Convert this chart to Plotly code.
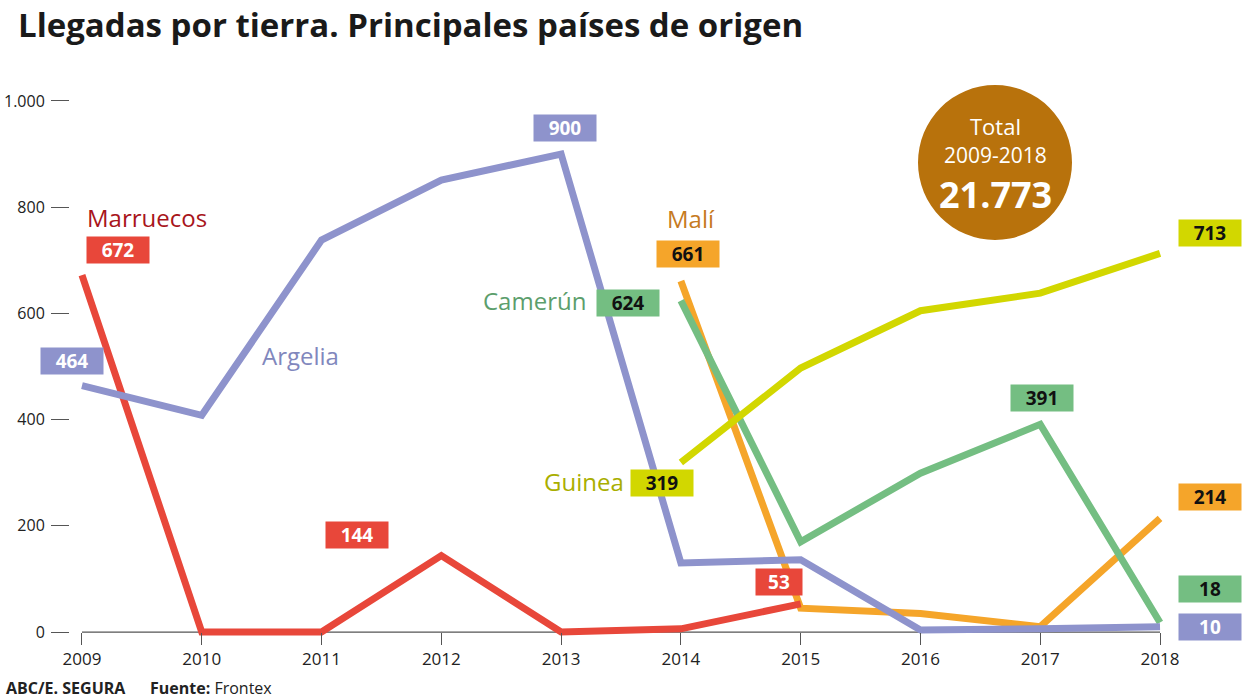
import plotly.graph_objects as go

years = [2009, 2010, 2011, 2012, 2013, 2014, 2015, 2016, 2017, 2018]

marruecos_x = [2009, 2010, 2011, 2012, 2013, 2014, 2015]
marruecos_y = [672, 0, 0, 144, 0, 6, 53]

argelia_x = years
argelia_y = [464, 408, 738, 851, 900, 130, 136, 4, 6, 10]

mali_x = [2014, 2015, 2016, 2017, 2018]
mali_y = [661, 45, 35, 10, 214]

camerun_x = [2014, 2015, 2016, 2017, 2018]
camerun_y = [624, 170, 299, 391, 18]

guinea_x = [2014, 2015, 2016, 2017, 2018]
guinea_y = [319, 497, 605, 638, 713]

y_ticks = [0, 200, 400, 600, 800, 1000]

total_label = "21.773"

FONT = "Open Sans"
RED, PURPLE, ORANGE, GREEN, YELLOW = "#e8473a", "#8e93cc", "#f5a52a", "#74be82", "#d2d700"

# plot area in pixels
L, R, T, B = 70, 1172, 85, 640
W, H = R - L, B - T

def px(x):
    return (x - L) / W

def py(y):
    return (B - y) / H

fig = go.Figure()

# baseline
fig.add_shape(type="line", x0=years[0], x1=years[-1], y0=0, y1=0,
              line=dict(color="#555555", width=1.2), layer="below")

series = [
    (mali_x, mali_y, ORANGE),
    (camerun_x, camerun_y, GREEN),
    (marruecos_x, marruecos_y, RED),
    (argelia_x, argelia_y, PURPLE),
    (guinea_x, guinea_y, YELLOW),
]
for xs, ys, c in series:
    fig.add_trace(go.Scatter(x=xs, y=ys, mode="lines",
                             line=dict(color=c, width=7), hoverinfo="skip",
                             showlegend=False))

def box(x, y, text, bg, fg, dx, dy, w=60):
    fig.add_annotation(x=x, y=y, text=f"<b>{text}</b>", showarrow=False,
                       xshift=dx, yshift=dy, bgcolor=bg, width=w, height=24,
                       font=dict(family=FONT, size=19, color=fg),
                       xanchor="center", yanchor="middle")

def label(x, y, text, color, dx, dy, anchor):
    fig.add_annotation(x=x, y=y, text=text, showarrow=False, xshift=dx, yshift=dy,
                       font=dict(family=FONT, size=24, color=color),
                       xanchor=anchor, yanchor="middle")

# Marruecos
label(marruecos_x[0], marruecos_y[0], "Marruecos", "#a8151b", 3, 58, "left")
box(marruecos_x[0], marruecos_y[0], marruecos_y[0], RED, "white", 36, 25)
box(marruecos_x[3], marruecos_y[3], marruecos_y[3], RED, "white", -84, 21)
box(marruecos_x[6], marruecos_y[6], marruecos_y[6], RED, "white", -22, 22, 44)

# Argelia
label(argelia_x[1], argelia_y[1], "Argelia", "#8187bd", 58, 60, "left")
box(argelia_x[0], argelia_y[0], argelia_y[0], PURPLE, "white", -10, 25)
box(argelia_x[4], argelia_y[4], argelia_y[4], PURPLE, "white", 4, 26)
box(argelia_x[-1], argelia_y[-1], argelia_y[-1], PURPLE, "white", 50, 0, 60)

# Malí
label(mali_x[0], mali_y[0], "Malí", "#c67b1f", 10, 62, "center")
box(mali_x[0], mali_y[0], mali_y[0], ORANGE, "#111111", 7, 27)
box(mali_x[-1], mali_y[-1], mali_y[-1], ORANGE, "#111111", 50, 21)

# Camerún
label(camerun_x[0], camerun_y[0], "Camerún", "#5c9e6c", -93, 0, "right")
box(camerun_x[0], camerun_y[0], camerun_y[0], GREEN, "#111111", -53, -2)
box(camerun_x[3], camerun_y[3], camerun_y[3], GREEN, "#111111", 2, 26)
box(camerun_x[-1], camerun_y[-1], camerun_y[-1], GREEN, "#111111", 50, 33)

# Guinea
label(guinea_x[0], guinea_y[0], "Guinea", "#a9ae00", -55, -19, "right")
box(guinea_x[0], guinea_y[0], guinea_y[0], YELLOW, "#111111", -19, -20)
box(guinea_x[-1], guinea_y[-1], guinea_y[-1], YELLOW, "#111111", 50, 20)

# Total circle
fig.add_shape(type="circle", xref="paper", yref="paper",
              x0=px(918), x1=px(1072), y0=py(240), y1=py(85),
              fillcolor="#b8720c", line=dict(width=0), layer="below")
for txt, yc, size in [("Total", 126, 22), ("2009-2018", 155, 21),
                      (f"<b>{total_label}</b>", 194, 36)]:
    fig.add_annotation(xref="paper", yref="paper", x=px(995), y=py(yc),
                       xanchor="center", yanchor="middle",
                       text=txt, showarrow=False,
                       font=dict(family=FONT, size=size, color="white"))

# footer
fig.add_annotation(xref="paper", yref="paper", x=px(4), y=py(688),
                   xanchor="left", yanchor="middle", showarrow=False,
                   text="<b>ABC/E. SEGURA</b>", font=dict(family=FONT, size=16, color="#222"))
fig.add_annotation(xref="paper", yref="paper", x=px(148), y=py(688),
                   xanchor="left", yanchor="middle", showarrow=False,
                   text="<b>Fuente:</b> Frontex", font=dict(family=FONT, size=16, color="#222"))

fig.update_layout(
    width=1248, height=698,
    margin=dict(l=L, r=1248 - R, t=T, b=698 - B, autoexpand=False),
    paper_bgcolor="white", plot_bgcolor="white",
    separators=",.",
    title=dict(text="<b>Llegadas por tierra. Principales países de origen</b>",
               xref="container", yref="container",
               x=18 / 1248, xanchor="left", y=1 - 25 / 698, yanchor="middle",
               font=dict(family=FONT, size=33, color="#1a1a1a")),
    xaxis=dict(range=[2008.9, 2018.1], tickvals=years, showgrid=False, zeroline=False,
               showline=False, ticks="outside", ticklen=12, tickcolor="#555",
               anchor="free", position=15 / 1045, automargin=False,
               tickfont=dict(family=FONT, size=17, color="#222")),
    yaxis=dict(range=[-15, 1030], tickvals=y_ticks, tickformat=",", showgrid=False,
               zeroline=False, showline=False, ticks="outside", ticklen=18,
               tickcolor="#555", ticklabelstandoff=3, automargin=False,
               tickfont=dict(family=FONT, size=16, color="#222")),
)

fig.write_html("out.html", config={"displayModeBar": False},
               post_script="document.body.style.margin='0';document.body.style.overflow='hidden';")
